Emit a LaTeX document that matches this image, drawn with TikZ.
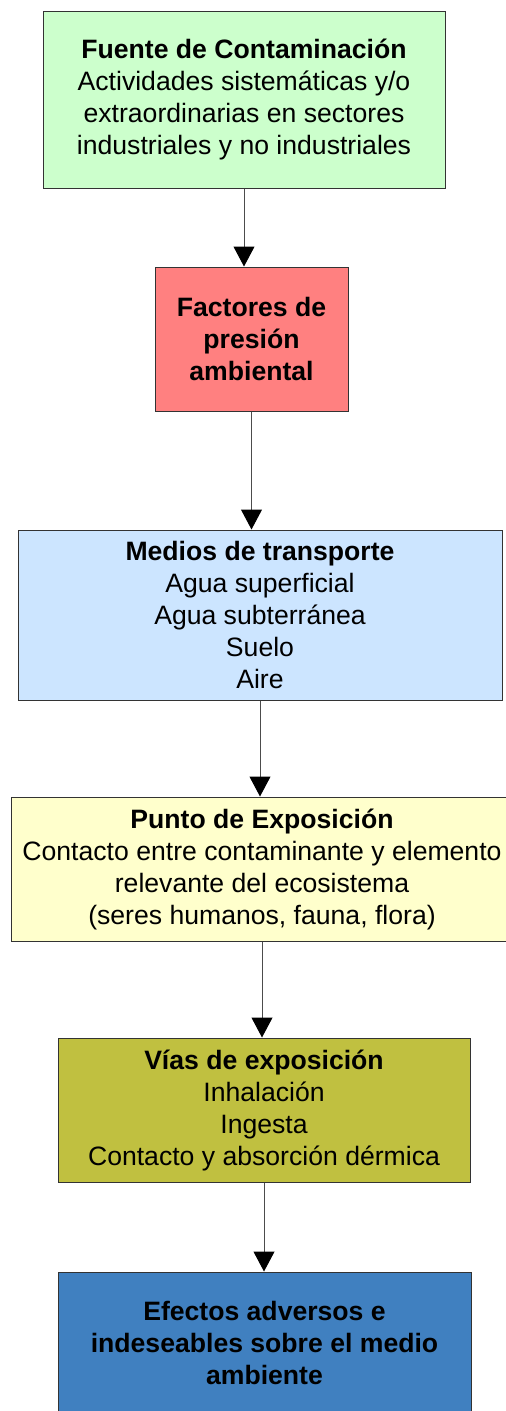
\documentclass[tikz,border=0pt]{standalone}
\usepackage{fontspec}
\setmainfont{Liberation Sans}
\usetikzlibrary{arrows.meta}
\definecolor{cgreen}{HTML}{CCFFCC}
\definecolor{cred}{HTML}{FF8080}
\definecolor{cblue}{HTML}{CCE5FF}
\definecolor{cyellow}{HTML}{FFFFCC}
\definecolor{colive}{HTML}{C0C040}
\definecolor{cdblue}{HTML}{4080C0}
\begin{document}
\begin{tikzpicture}[x=1pt,y=-1pt,
  box/.style={draw=black!80, line width=1pt, align=center, inner sep=0pt,
    font=\fontsize{26.6}{32}\selectfont},
  conn/.style={draw=black!70, line width=1pt, -{Triangle[width=21pt,length=20pt,fill=black,color=black]}}]
\useasboundingbox (0,0) rectangle (506,1411);
\node[box, fill=cgreen, minimum width=402, minimum height=177] (n1) at (244,99.5)
  {\textbf{Fuente de Contaminación}\\Actividades sistemáticas y/o\\extraordinarias en sectores\\industriales y no industriales};
\node[box, fill=cred, minimum width=193, minimum height=144] (n2) at (251.5,339)
  {\textbf{Factores de}\\\textbf{presión}\\\textbf{ambiental}};
\node[box, fill=cblue, minimum width=484, minimum height=170] (n3) at (260,615)
  {\textbf{Medios de transporte}\\Agua superficial\\Agua subterránea\\Suelo\\Aire};
\node[box, fill=cyellow, minimum width=502, minimum height=144] (n4) at (262,869)
  {\textbf{Punto de Exposición}\\Contacto entre contaminante y elemento\\relevante del ecosistema\\(seres humanos, fauna, flora)};
\node[box, fill=colive, minimum width=412, minimum height=144] (n5) at (264,1110)
  {\textbf{Vías de exposición}\\Inhalación\\Ingesta\\Contacto y absorción dérmica};
\node[box, fill=cdblue, minimum width=413, minimum height=142] (n6) at (264.5,1343)
  {\textbf{Efectos adversos e}\\\textbf{indeseables sobre el medio}\\\textbf{ambiente}};
\draw[conn] (n1.south) -- (n1.south |- n2.north);
\draw[conn] (n2.south) -- (n2.south |- n3.north);
\draw[conn] (n3.south) -- (n3.south |- n4.north);
\draw[conn] (n4.south) -- (n4.south |- n5.north);
\draw[conn] (n5.south) -- (n5.south |- n6.north);
\end{tikzpicture}
\end{document}
